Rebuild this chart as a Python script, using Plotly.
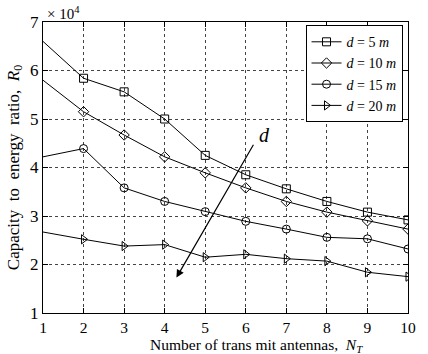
import plotly.graph_objects as go

antennas = [1, 2, 3, 4, 5, 6, 7, 8, 9, 10]
d5 = [66000, 58400, 55600, 50000, 42500, 38500, 35600, 33000, 30800, 29200]
d10 = [58000, 51500, 46700, 42200, 38900, 35800, 33000, 30800, 29000, 27300]
d15 = [42200, 43900, 35800, 33000, 30900, 28900, 27300, 25600, 25300, 23200]
d20 = [26700, 25200, 23800, 24100, 21500, 22100, 21200, 20700, 18400, 17500]
series_names = ["<i>d</i> = 5 <i>m</i>", "<i>d</i> = 10 <i>m</i>", "<i>d</i> = 15 <i>m</i>", "<i>d</i> = 20 <i>m</i>"]
symbols = ["square-open", "diamond-open", "circle-open", "triangle-right-open"]
ytick_vals = [10000, 20000, 30000, 40000, 50000, 60000, 70000]
ytick_text = ["1", "2", "3", "4", "5", "6", "7"]

FONT = "Liberation Serif, Times New Roman, serif"

fig = go.Figure()
for ys, name, sym in zip([d5, d10, d15, d20], series_names, symbols):
    # first segment (no marker at x=1, as in the reference)
    fig.add_trace(go.Scatter(
        x=antennas[:2], y=ys[:2], mode="lines", showlegend=False, hoverinfo="skip",
        line=dict(color="black", width=1),
    ))
    fig.add_trace(go.Scatter(
        x=antennas[1:], y=ys[1:], name=name, mode="lines+markers",
        line=dict(color="black", width=1),
        marker=dict(symbol=sym, size=8, color="black", line=dict(width=1, color="black")),
    ))

fig.add_annotation(x=4.29, y=17300, ax=6.21, ay=45000, xref="x", yref="y",
                   axref="x", ayref="y", showarrow=True, arrowhead=2,
                   arrowsize=1.3, arrowwidth=1.2, arrowcolor="black", text="")
fig.add_annotation(x=6.47, y=46700, xref="x", yref="y", text="<i>d</i>",
                   showarrow=False, font=dict(family=FONT, size=20, color="black"))
fig.add_annotation(x=0, y=1, xref="paper", yref="paper", xanchor="left", yanchor="bottom",
                   text="× 10<sup>4</sup>", showarrow=False,
                   font=dict(family=FONT, size=15, color="black"), xshift=2, yshift=-2)
fig.add_annotation(x=0.586, y=0, xref="paper", yref="paper", xanchor="center", yanchor="top",
                   text="Number of trans mit antennas,&nbsp; <i>N</i><sub><i>T</i></sub>",
                   showarrow=False, font=dict(family=FONT, size=15.5, color="black"), yshift=-21)

axis_common = dict(
    showline=True, linecolor="black", linewidth=1, mirror="ticks",
    ticks="inside", ticklen=5, tickcolor="black",
    showgrid=True, gridcolor="#444444", griddash="dot", gridwidth=1,
    zeroline=False, tickfont=dict(family=FONT, size=17, color="black"),
)

fig.update_xaxes(range=[1, 10], tickvals=antennas, ticktext=[str(a) for a in antennas],
                 **{**axis_common, "tickfont": dict(family=FONT, size=15.5, color="black")})
fig.update_yaxes(range=[10000, 70000], tickvals=ytick_vals, ticktext=ytick_text,
                 title=dict(text="Capacity&nbsp; to&nbsp; energy&nbsp; ratio,&nbsp; <i>R</i><sub>0</sub>",
                            font=dict(family=FONT, size=17, color="black"), standoff=6),
                 **axis_common)

fig.update_layout(
    width=428, height=354,
    margin=dict(l=43, r=13, t=22, b=41),
    paper_bgcolor="white", plot_bgcolor="white",
    font=dict(family=FONT, color="black"),
    legend=dict(x=0.985, y=0.989, xanchor="right", yanchor="top",
                bgcolor="white", bordercolor="black", borderwidth=1,
                font=dict(family=FONT, size=14, color="black"),
                tracegroupgap=0, itemwidth=30),
    showlegend=True,
)

fig.write_html("out.html", config={"displayModeBar": False},
               post_script="document.body.style.margin='0';")
